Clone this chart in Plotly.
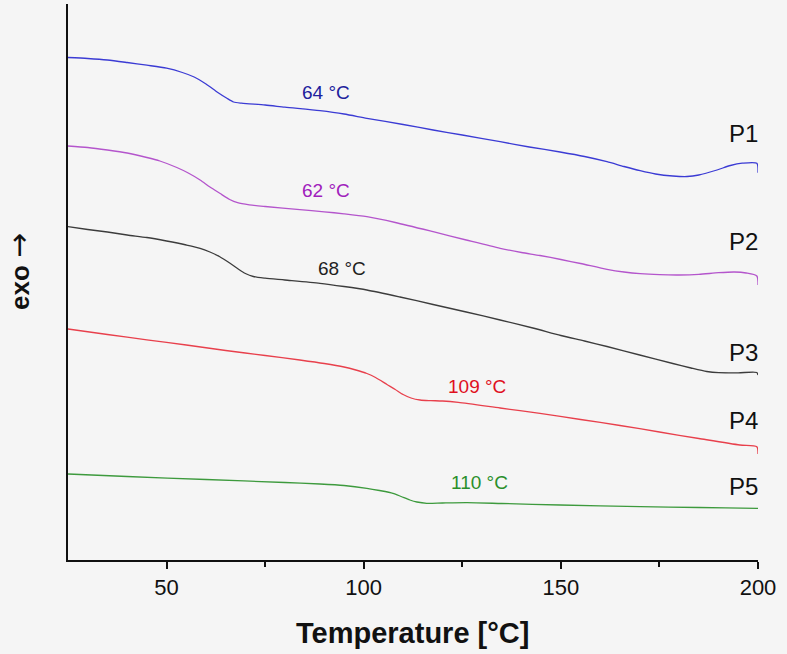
import plotly.graph_objects as go

# ---- data (temperature in °C, heat flow in arbitrary units, curves offset) ----
T_P1 = [25, 30, 35, 40, 45, 50, 54, 57, 60, 63, 65.3, 67, 69, 75, 80, 88.9, 95, 100.8, 110, 117.6,
        125, 134.6, 142, 149.8, 156, 161.7, 166, 170.1, 174, 178.4, 182, 185, 189.6, 193, 196,
        199.7, 200]
Y_P1 = [502.5, 501.5, 500, 497.5, 494.8, 491.8, 487.5, 483, 476, 467.5, 461.7, 458, 456.8, 455,
        452.8, 449.3, 446, 441.7, 435.5, 430, 425, 418.3, 413, 408, 403.5, 398.3, 393.5, 389.3,
        386, 384, 383.5, 385, 390, 394.5, 396.8, 396.7, 387.3]

T_P2 = [25, 30, 35, 40, 45, 48.3, 52.6, 55.5, 58.5, 61, 63.5, 66, 68, 71, 75, 83.8, 90, 95,
        100.8, 108, 117.6, 126, 134.6, 140, 144.7, 150, 155, 161.7, 166, 170.1, 175, 180, 185,
        190, 194, 197, 199.7, 200]
Y_P2 = [414, 412.5, 410, 407, 402.5, 399, 392.5, 387, 380, 373, 366.7, 360.5, 357.3, 355.2,
        353.5, 350.3, 348.2, 346.2, 343.3, 337.5, 328.3, 320, 311.7, 307.5, 304.5, 300.5, 296.5,
        290.7, 288, 286.3, 285.3, 285, 285.6, 287.3, 288, 287, 284, 275]

T_P3 = [25, 30, 35, 40, 45, 50, 55, 58.5, 61, 63.5, 66, 68, 70, 72, 75, 80, 88.9, 95, 100.8,
        109.2, 117.6, 126, 134.6, 142.9, 150, 156, 161.7, 170, 178.4, 183, 187, 190, 195, 199.7,
        200]
Y_P3 = [333.3, 330.5, 328, 325, 322.5, 319, 315, 311.7, 308, 303.3, 297, 291.5, 286.5, 283.5,
        281.8, 280, 276.7, 273.5, 270, 263, 255.5, 248, 240, 232, 224.5, 219, 213.5, 205, 196.5,
        192, 188.5, 187.3, 187.2, 187.5, 185]

T_P4 = [25, 35, 45, 55, 65, 75, 83.8, 90, 95, 98, 100.8, 103, 105.9, 108, 110, 112, 114.3, 117,
        120, 124, 134.6, 144.7, 155, 165, 175, 185, 195.4, 199.7, 200]
Y_P4 = [231, 225.5, 220.2, 215, 209.5, 204.5, 200, 196.5, 193, 190, 186.5, 182.5, 175.5, 170.5,
        165.5, 162, 160, 159.4, 159, 157.6, 152, 146.7, 140.5, 134.5, 128, 121.5, 115, 113.3, 106]

T_P5 = [25, 40, 60, 80, 88.9, 95, 100.8, 104, 107.4, 109.5, 111.7, 113.5, 116, 120, 126.2, 135,
        149.8, 170.1, 185, 199.7, 200]
Y_P5 = [86, 83.5, 80.5, 77.5, 76, 74.5, 71.7, 69.5, 66.7, 63.5, 60, 58, 56.7, 57, 57.3, 56.5,
        55, 53.3, 52.5, 51.7, 51.7]

series_names = ["P1", "P2", "P3", "P4", "P5"]
tg_labels = ["64 °C", "62 °C", "68 °C", "109 °C", "110 °C"]
x_tickvals = [50, 100, 150, 200]
x_minor_ticks = [75, 125, 175]

# ---- styling / placement ----
line_colors = ["#3b3bd4", "#b455cc", "#3c3c3c", "#e8404c", "#3d9a3d"]
text_colors = ["#20209c", "#a020bc", "#1e1e1e", "#e0101e", "#2a8f2a"]
tg_pos = [(90.4, 468), (90.4, 370), (94.5, 292), (128.7, 174), (129.3, 78)]
name_pos = [(196.2, 427), (196.4, 319), (196.4, 208), (196.4, 140), (196.4, 74)]
FONT = "Liberation Sans, Arial, sans-serif"

fig = go.Figure()
xs = [T_P1, T_P2, T_P3, T_P4, T_P5]
ys = [Y_P1, Y_P2, Y_P3, Y_P4, Y_P5]
for name, x, y, c in zip(series_names, xs, ys, line_colors):
    fig.add_trace(go.Scatter(x=x, y=y, mode="lines", name=name,
                             line=dict(color=c, width=1.3, shape="spline", smoothing=0.7),
                             showlegend=False, hoverinfo="skip"))

ann = []
for txt, (px, py), c in zip(tg_labels, tg_pos, text_colors):
    ann.append(dict(x=px, y=py, xref="x", yref="y", text=txt, showarrow=False,
                    font=dict(family=FONT, size=19, color=c), xanchor="center", yanchor="middle"))
for txt, (px, py) in zip(series_names, name_pos):
    ann.append(dict(x=px, y=py, xref="x", yref="y", text=txt, showarrow=False,
                    font=dict(family=FONT, size=24, color="#111111"), xanchor="center", yanchor="middle"))
ann.append(dict(x=(18 - 68) / 690, y=(560 - 272) / 556, xref="paper", yref="paper",
                text="<b>exo</b> <span style='font-family:DejaVu Sans;font-size:30px'>→</span>",
                textangle=-90, showarrow=False,
                font=dict(family=FONT, size=26, color="#111111"), xanchor="center", yanchor="middle"))
ann.append(dict(x=(412 - 68) / 690, y=(560 - 633) / 556, xref="paper", yref="paper",
                text="<b>Temperature [°C]</b>", showarrow=False,
                font=dict(family=FONT, size=29, color="#111111"), xanchor="center", yanchor="middle"))

fig.update_layout(
    width=787, height=654,
    margin=dict(l=68, r=29, t=4, b=94),
    paper_bgcolor="#f5f5f5", plot_bgcolor="#f5f5f5",
    annotations=ann,
    xaxis=dict(range=[25, 200], tickvals=x_tickvals, ticks="outside", ticklen=7, tickwidth=2,
               tickcolor="#111111", showline=True, linewidth=2, linecolor="#111111",
               showgrid=False, zeroline=False,
               tickfont=dict(family=FONT, size=22, color="#111111"),
               minor=dict(tickvals=x_minor_ticks, ticks="outside", ticklen=5, tickwidth=2,
                          tickcolor="#111111", showgrid=False)),
    yaxis=dict(range=[0, 556], showticklabels=False, ticks="", showline=True, linewidth=2,
               linecolor="#111111", showgrid=False, zeroline=False),
)

fig.write_html("out.html", config={"displayModeBar": False},
               post_script="document.body.style.margin='0';document.body.style.overflow='hidden';")
